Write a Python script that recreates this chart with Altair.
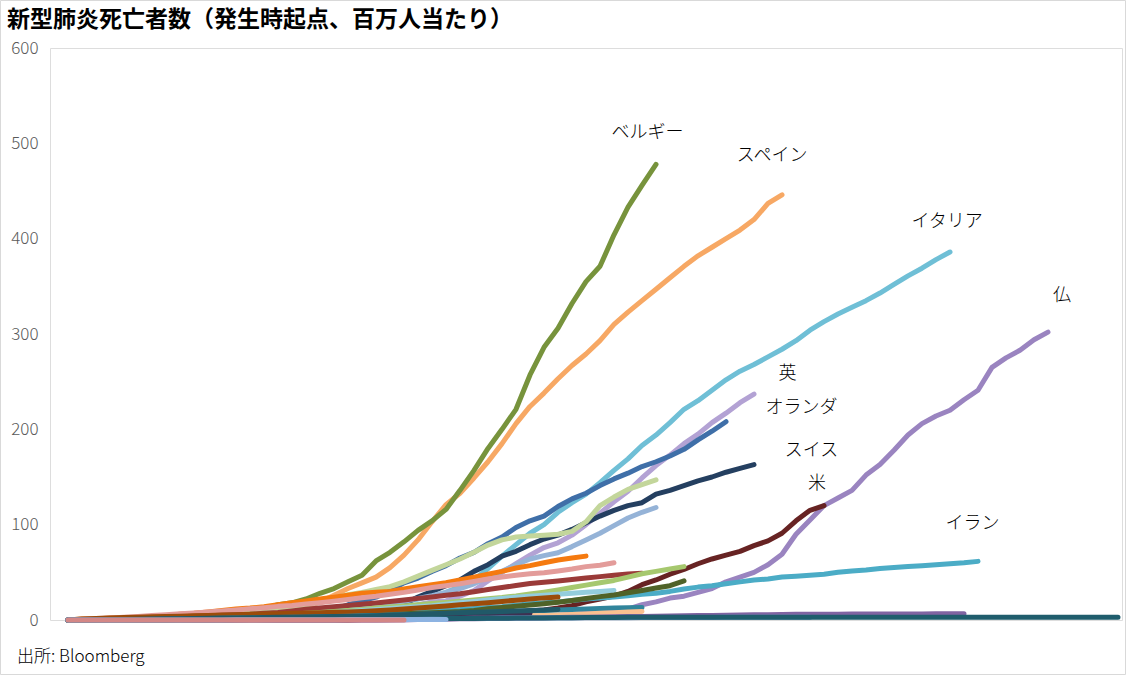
import altair as alt
import pandas as pd

title_text = "新型肺炎死亡者数（発生時起点、百万人当たり）"
source_text = "出所: Bloomberg"
y_ticks = [0, 100, 200, 300, 400, 500, 600]

# values per day (index = day since start), deaths per million
spain = [0,0,0,0.5,1,1,1.5,2,2,3, 3,4,5,6,8,10,12,14,19,26, 33,39,45,55,68,84,103,121,133,149,
         166,185,206,224,238,253,267,279,293,310, 323,335,347,359,371,382,391,400,409,420, 437,446]
belgium = [0,0,0.5,1,1,1.5,2,2,2.5,3, 4,5,7,8,12,16,18,22,28,33, 40,47,62,71,82,94,104,116,136,157,
           180,200,221,257,286,306,332,355,371,404, 433,456,478]
italy = [0,0,0,0,0,0,0.5,0.5,1,1, 1.5,2,3,4,5,6,7,9,10,11, 12.5,14,15.5,17,19,22,25,29,35,42,
         54,67,79,91,100,113,123,132,144,157, 169,183,194,207,221,230,241,252,261,268,
         276,284,293,304,313,321,328,335,343,352, 361,369,378,386]
france = [0,0,0,0,0,0,0,0,0,0, 0,0,0,0,0,0,0,0,0,0, 0,0,0,0,0,0.5,1,1,1.5,1.5,
          2,2,3,3.5,4,5,6,7,8,9.5, 11.5,16,19,23,25,29,33,40,45,50,
          58,69,90,105,120,128,136,152,163,178, 194,206,214,220,231,241,265,275,283,294, 302]
uk = [0,0,0,0,0,0.5,0.5,1,1,1.5, 2,2,2.5,3,3.5,4,5,6,6,7, 8,9.5,10.5,11.5,13,16,19,20,25,31,
      41,50,59,68,76,81,89,100,112,124, 135,149,162,173,185,195,207,217,228,237]
netherlands = [0,0,0,0,0,0,0.5,0.5,0.5,1, 1,1,1.5,2,2.5,3,5,7,9,11, 16,20,24,31,39,44,51,57,65,71,
               80,87,97,104,109,119,127,133,141,148, 154,161,166,172,179,189,198,208]
switzerland = [0,0,0,0,0,0,0,0,0,0, 0,0.5,0.5,1,1,1.5,2,2,3,4, 5,7,9,12.5,17,24,30,36,42,51,
               58,67,72,79,85,89,95,102,109,115, 120,123,132,136,141,146,150,155,159,163]
us = [0,0,0,0,0,0,0,0,0,0, 0,0,0,0,0,0,0,0,0,0, 0,0.5,0.5,1,1,1.5,1.5,2,2,3,
      4,6,8,9.5,10.5,12.5,15,19,22,25, 30,37,42,48,53,59,64,68,72,78, 83,91,104,115,120]
iran = [0,0,0,0,0,0,0.5,0.5,1,1, 1,1.5,1.5,2,2,2.5,3,3,4,4, 5,5.5,6,7,7.5,8.5,9.5,10.5,11,12,
        13,14,15.5,17,18,19,20.5,22,23,24, 25.5,27,28,30,32.5,34.5,36,38,40,42,
        43,45,46,47,48,50,51.5,52.5,54,55, 56,57,58,59,60,61.5]
pale_green = [0,0.3,0.6,1,1.3,1.6,2,2.3,2.6,3, 4.3,5.6,7,8.3,9.6,11,12.5,15.5,19,23,
              26.5,29,32,35,40,46,52,58,64,71, 78.6,84,87,88,89,90,93,103,120,129, 137,142,147]
sky_blue = [0,0.3,0.6,1,1.3,1.6,2,2.3,2.6,3, 3.4,3.8,4.2,4.6,5,5.5,6,6.8,7.6,8.5,
            10,12,14.7,16.7,19.5,22.5,25.5,29,33,38, 44.5,51,58,64,67.5,70.5,77,84,91,99, 107,113,118]
orange = [0,1,1,2,2,3,3.5,4.5,6,7, 8.5,10,11.5,12.5,14,16,18,20,22,24,
          26,28,29,30,32.5,35,37,39,42,45, 48,51,54.5,57,60,63,65,67]
pink = [0,0.7,1.5,2.2,3,3.8,4.7,5.6,6.5,7.3, 8.4,9.5,10.6,11.7,12.9,14.3,15.2,16.9,18.2,19.8,
        21.6,23.4,25,27,29,31.5,34,36,38,40.5, 43,45,47,48.5,49.5,51.5,53.5,56,57.5,60]
red_brown = [0,0.3,0.6,1,1.5,2,2.5,3,3.5,4, 4.5,5,5.5,6,7,8,9.5,11.3,12.7,14,
             15.3,16.5,17.8,19.3,21,22.7,24.2,25.9,27.5,29.7, 31.9,34,36.2,38.2,39.5,40.8,42.4,44,45.5,47,
             48.2,49]
light_green = [0,0.2,0.4,0.6,0.8,1,1.2,1.4,1.7,2, 2.3,2.6,2.8,3,4,5,6,7,8,9,
               10,11,12.5,13.6,14.8,16,17.2,18.4,19.6,21, 22.4,23.6,25.2,27.2,29.2,31.5,34,36.6,39,41.5,
               45,48.5,51,53.5,56]
cyan = [0,0,0.3,0.6,1,1.3,1.6,2,2.4,2.8, 3.2,3.6,4,4.5,5,5.5,6,6.5,7,8,
        9,10,11,12,13,14,15,16.5,18,19.5, 21,22.5,24,25,26,27,28,29,30,31]
olive = [0,0.1,0.2,0.3,0.4,0.5,0.6,0.8,1,1.2, 1.4,1.6,1.8,2,2.3,2.6,3,3.4,3.8,4.2,
         4.6,5,5.5,6,6.5,7,7.5,8,8.8,10, 11.8,13,14.5,15.7,17,18.6,20.5,22.5,24.5,26.3,
         28.5,31,33.5,36,41]
brown = [0,1,1.5,2,2.5,3,3.3,3.7,4,4.4, 4.8,5.2,5.6,6,6.3,6.6,7,7.3,7.6,8,
         8.4,9,9.8,10.6,11.6,12.6,13.6,14.8,16,17, 18.2,19.5,20.8,22,23.2,24]
teal_mid = [0,0,0,0.2,0.4,0.6,0.8,1,1.2,1.4, 1.6,1.8,2,2.2,2.4,2.6,2.8,3,3.3,3.6,
            4,4.4,4.8,5.2,5.6,6,6.4,6.8,7.2,7.6, 8,8.5,9,9.5,10,10.5,11,11.5,12,12.5, 12.8,13]
peach = [0,0,0,0,0,0,0,0,0,0, 0,0,0,0,0.2,0.4,0.6,0.8,1,1.2,
         1.4,1.6,1.8,2,2.2,2.4,2.6,2.8,3,3.2, 3.4,3.7,4,4.4,4.8,5.3,5.8,6.4,7,7.7, 8.4,9]
dark_purple = [0,0,0,0,0,0,0,0,0,0, 0,0,0.2,0.4,0.6,0.8,1,1.2,1.4,1.6,
               1.8,2,2.3,2.6,2.9,3.2,3.6,4,4.4,5, 5.5,6,6.5,7]
purple = [0,0,0,0,0,0,0,0,0,0, 0,0,0,0,0,0,0,0,0,0, 0,0,0,0.2,0.4,0.6,0.8,1,1.2,1.4,
          1.6,1.8,2,2.2,2.4,2.6,2.8,3,3.2,3.4, 3.6,3.8,4,4.2,4.4,4.6,4.8,5,5.2,5.4,
          5.6,5.8,6,6,6.1,6.1,6.2,6.2,6.3,6.3, 6.4,6.4,6.5,6.5,6.5]
mid_blue = [0,0,0,0,0,0.2,0.2,0.3,0.3,0.4, 0.4,0.5,0.5,0.6,0.6,0.7,0.7,0.8,0.8,0.9,
            1,1,1.1,1.2,1.3,1.4,1.5,1.6,1.7,1.8, 1.9,2,2,2.1,2.1,2.2,2.2,2.3,2.3,2.4,
            2.4,2.5,2.5,2.6,2.6,2.7,2.7,2.8,2.8,2.9, 2.9,3,3,3]
teal_long = [0,0,0,0,0,0,0.1,0.1,0.2,0.2, 0.3,0.3,0.4,0.4,0.5,0.5,0.6,0.6,0.7,0.7,
             0.8,0.9,1,1.1,1.2,1.3,1.4,1.5,1.6,1.7, 1.8,1.9,2,2.1,2.2,2.3,2.4,2.5,2.6,2.7,
             2.8,2.9,3,3,3,3,3,3,3,3, 3,3,3,3,3,3,3,3,3,3, 3,3,3,3,3,3,3,3,3,3, 3,3,3,3,3,3]
teal_dark = [0,0,0.2,0.4,0.6,0.8,1,1.2,1.4,1.6, 1.8,2,2.2,2.4,2.6,2.8,3,3.2,3.4,3.6,
             3.8,4,4.5,5,5.5,6,6.5,7,7.5,8, 8.5,9,9.5,10,10.5,11]
light_blue_b = [0,0,0,0,0,0,0,0,0.1,0.1, 0.1,0.1,0.2,0.2,0.2,0.2,0.3,0.3,0.3,0.3,
                0.4,0.4,0.4,0.5,0.5,0.5,0.6,0.6]
rose = [0,0,0,0,0,0,0,0,0,0, 0,0,0,0,0,0,0,0,0,0, 0,0,0,0,0]

# drawing order (first = bottom)
series = [
    ("スペイン", spain, "#F7A864"),
    ("ベルギー", belgium, "#77933C"),
    ("イタリア", italy, "#6FBFD6"),
    ("仏", france, "#9A84C0"),
    ("英", uk, "#B3A2D4"),
    ("オランダ", netherlands, "#3F6FA8"),
    ("スイス", switzerland, "#243F60"),
    ("米", us, "#672323"),
    ("イラン", iran, "#4BACC6"),
    ("s10", pale_green, "#C3D69B"),
    ("s11", sky_blue, "#95B3D7"),
    ("s12", orange, "#F57A0F"),
    ("s13", pink, "#E39C9A"),
    ("s14", red_brown, "#9A3A38"),
    ("s15", light_green, "#A6C86E"),
    ("s16", cyan, "#93CDDD"),
    ("s17", olive, "#4F6228"),
    ("s18", brown, "#9B4C0A"),
    ("s19", teal_mid, "#31859C"),
    ("s20", peach, "#FAC090"),
    ("s21", dark_purple, "#3F3151"),
    ("s22", purple, "#8064A2"),
    ("s23", mid_blue, "#6F96C8"),
    ("s24", teal_long, "#1F5D6D"),
    ("s25", teal_dark, "#215968"),
    ("s26", light_blue_b, "#8DB3E2"),
    ("s27", rose, "#D48786"),
]

rows = []
keys, colors = [], []
for i, (name, vals, col) in enumerate(series):
    key = f"{i:02d}_{name}"
    keys.append(key)
    colors.append(col)
    for d, v in enumerate(vals):
        rows.append({"key": key, "day": d, "value": v})
df = pd.DataFrame(rows)

# labels next to lines (day, value)
label_names = ["ベルギー", "スペイン", "イタリア", "仏", "英", "オランダ", "スイス", "米", "イラン"]
label_days = [41.4, 50.3, 62.8, 71.0, 51.4, 52.4, 53.1, 53.5, 64.6]
label_vals = [511, 487, 418, 340, 258, 222, 177, 143, 101]
labels_df = pd.DataFrame({"label": label_names, "day": label_days, "value": label_vals})

FONT = "Noto Sans CJK JP"
xscale = alt.Scale(domain=[-1.2857, 75.2857], nice=False, zero=False)
yscale = alt.Scale(domain=[0, 600], nice=False)

frame = alt.Chart(pd.DataFrame({"a": [0]})).mark_rect(
    fill="transparent", stroke="#D9D9D9", strokeWidth=1
).encode(
    x=alt.value(-49.5), x2=alt.value(1075.5), y=alt.value(-47.5), y2=alt.value(626.5)
)

lines = alt.Chart(df).mark_line(strokeWidth=5, strokeCap="round", strokeJoin="round").encode(
    x=alt.X("day:Q", scale=xscale, axis=None),
    y=alt.Y("value:Q", scale=yscale,
            axis=alt.Axis(values=y_ticks, grid=False, domain=False, ticks=False,
                          labelPadding=12, labelFontSize=17, labelColor="#595959",
                          labelFont=FONT, labelFontWeight=300, title=None, zindex=1)),
    color=alt.Color("key:N", scale=alt.Scale(domain=keys, range=colors), legend=None),
    detail="key:N",
)

texts = alt.Chart(labels_df).mark_text(
    fontSize=18, font=FONT, fontWeight=300, color="black", align="center", baseline="middle"
).encode(
    x=alt.X("day:Q", scale=xscale),
    y=alt.Y("value:Q", scale=yscale),
    text="label:N",
)

title = alt.Chart(pd.DataFrame({"t": [title_text]})).mark_text(
    fontSize=23, font=FONT, fontWeight="bold", color="black", align="left", baseline="middle"
).encode(x=alt.value(-43), y=alt.value(-28), text="t:N")

source = alt.Chart(pd.DataFrame({"t": [source_text]})).mark_text(
    fontSize=17, font=FONT, fontWeight=300, color="black", align="left", baseline="middle"
).encode(x=alt.value(-33), y=alt.value(609), text="t:N")

chart = alt.layer(frame, lines, texts, title, source).properties(
    width=1072, height=572,
    autosize=alt.AutoSizeParams(type="none"),
    padding={"left": 50, "top": 48, "right": 7, "bottom": 57},
).configure_view(strokeWidth=0).configure(background="white")

chart.save("out.html", embed_options={"renderer": "svg", "actions": False})
